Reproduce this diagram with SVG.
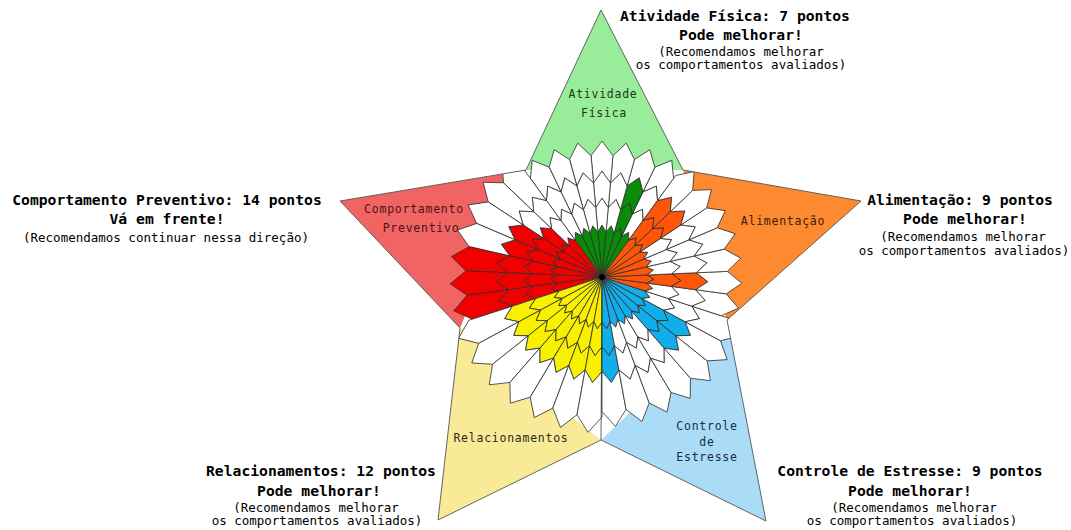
<svg xmlns="http://www.w3.org/2000/svg" width="1071" height="530" viewBox="0 0 1071 530">
<style>
.hd{font-family:"DejaVu Sans Mono","Liberation Mono",monospace;font-weight:bold;font-size:14.7px;fill:#000;text-anchor:middle}
.sm{font-family:"DejaVu Sans Mono","Liberation Mono",monospace;font-size:12.5px;fill:#000;text-anchor:middle}
.lb{font-family:"DejaVu Sans Mono","Liberation Mono",monospace;font-size:11.5px;letter-spacing:0.75px;text-anchor:middle}
.pet use{stroke:#2e2e2e;stroke-width:0.75;stroke-linejoin:miter}
.w{fill:#fff}
.cg{fill:#0a8c0a}.co{fill:#ff5508}.cr{fill:#f20000}.cy{fill:#f8f000}.cb{fill:#10aeea}
.arm{stroke:none}
</style>
<defs>
<clipPath id="starclip" clipPathUnits="userSpaceOnUse">
<polygon points="601,10 683,170 861,201 727,320 766,521 601,440 438,520 460,328 340,201 526,170"/>
</clipPath>
<polygon id="s1" points="0,0 45.12,4.06 52,0 45.12,-4.06"/>
<polygon id="s2" points="45.12,4.06 69.62,6.27 79,0 69.62,-6.27 45.12,-4.06 52,0"/>
<polygon id="s3" points="69.62,6.27 94.12,8.47 106,0 94.12,-8.47 69.62,-6.27 79,0"/>
<polygon id="s4g" points="94.12,8.47 121.31,10.92 136,0 121.31,-10.92 94.12,-8.47 106,0"/>
<polygon id="s4o" points="94.12,8.47 124.89,11.24 140,0 124.89,-11.24 94.12,-8.47 106,0"/>
<polygon id="s4r" points="94.12,8.47 135.75,12.22 152,0 135.75,-12.22 94.12,-8.47 106,0"/>
<polygon id="s4y" points="94.12,8.47 139.44,12.55 156,0 139.44,-12.55 94.12,-8.47 106,0"/>
<polygon id="s4b" points="94.12,8.47 133.96,12.06 150,0 133.96,-12.06 94.12,-8.47 106,0"/>
</defs>

<g id="arms">
<polygon id="inner" points="526,170 683,170 727,320 601,440 460,328" fill="#fff"/>
<polygon id="arm-atividade" class="arm" points="601,10 683,170 526,170" fill="#99ec99"/>
<polygon id="arm-alimentacao" class="arm" points="861,201 727,320 683,170" fill="#fd8a30"/>
<polygon id="arm-estresse" class="arm" points="766,521 601,440 727,320" fill="#aadcf8"/>
<polygon id="arm-relacionamentos" class="arm" points="438,520 460,328 601,440" fill="#f9ea98"/>
<polygon id="arm-preventivo" class="arm" points="340,201 526,170 460,328" fill="#f06464"/>
</g>

<g id="petals" class="pet" clip-path="url(#starclip)">
<g transform="translate(602,277)">
<g id="petals-atividade">
<g transform="rotate(-59.14)"><use href="#s1" class="cg"/><use href="#s2" class="w"/><use href="#s3" class="w"/><use href="#s4g" class="w"/></g>
<g transform="rotate(-69.43)"><use href="#s1" class="cg"/><use href="#s2" class="cg"/><use href="#s3" class="cg"/><use href="#s4g" class="w"/></g>
<g transform="rotate(-79.71)"><use href="#s1" class="cg"/><use href="#s2" class="w"/><use href="#s3" class="w"/><use href="#s4g" class="w"/></g>
<g transform="rotate(-90)"><use href="#s1" class="cg"/><use href="#s2" class="w"/><use href="#s3" class="w"/><use href="#s4g" class="w"/></g>
<g transform="rotate(-100.29)"><use href="#s1" class="cg"/><use href="#s2" class="w"/><use href="#s3" class="w"/><use href="#s4g" class="w"/></g>
<g transform="rotate(-110.57)"><use href="#s1" class="cg"/><use href="#s2" class="w"/><use href="#s3" class="w"/><use href="#s4g" class="w"/></g>
<g transform="rotate(-120.86)"><use href="#s1" class="cg"/><use href="#s2" class="w"/><use href="#s3" class="w"/><use href="#s4g" class="w"/></g>
</g>
<g id="petals-preventivo">
<g transform="rotate(-131.14)"><use href="#s1" class="cr"/><use href="#s2" class="w"/><use href="#s3" class="w"/><use href="#s4r" class="w"/></g>
<g transform="rotate(-141.43)"><use href="#s1" class="cr"/><use href="#s2" class="cr"/><use href="#s3" class="w"/><use href="#s4r" class="w"/></g>
<g transform="rotate(-151.71)"><use href="#s1" class="cr"/><use href="#s2" class="cr"/><use href="#s3" class="cr"/><use href="#s4r" class="w"/></g>
<g transform="rotate(-162)"><use href="#s1" class="cr"/><use href="#s2" class="cr"/><use href="#s3" class="cr"/><use href="#s4r" class="w"/></g>
<g transform="rotate(-172.29)"><use href="#s1" class="cr"/><use href="#s2" class="cr"/><use href="#s3" class="cr"/><use href="#s4r" class="cr"/></g>
<g transform="rotate(-182.57)"><use href="#s1" class="cr"/><use href="#s2" class="cr"/><use href="#s3" class="cr"/><use href="#s4r" class="cr"/></g>
<g transform="rotate(-192.86)"><use href="#s1" class="cr"/><use href="#s2" class="cr"/><use href="#s3" class="cr"/><use href="#s4r" class="cr"/></g>
</g>
<g id="petals-relacionamentos">
<g transform="rotate(-203.14)"><use href="#s1" class="cy"/><use href="#s2" class="cy"/><use href="#s3" class="cy"/><use href="#s4y" class="w"/></g>
<g transform="rotate(-213.43)"><use href="#s1" class="cy"/><use href="#s2" class="cy"/><use href="#s3" class="cy"/><use href="#s4y" class="w"/></g>
<g transform="rotate(-223.71)"><use href="#s1" class="cy"/><use href="#s2" class="cy"/><use href="#s3" class="cy"/><use href="#s4y" class="w"/></g>
<g transform="rotate(-234)"><use href="#s1" class="cy"/><use href="#s2" class="cy"/><use href="#s3" class="cy"/><use href="#s4y" class="w"/></g>
<g transform="rotate(-244.29)"><use href="#s1" class="cy"/><use href="#s2" class="cy"/><use href="#s3" class="cy"/><use href="#s4y" class="w"/></g>
<g transform="rotate(-254.57)"><use href="#s1" class="cy"/><use href="#s2" class="cy"/><use href="#s3" class="cy"/><use href="#s4y" class="w"/></g>
<g transform="rotate(-264.86)"><use href="#s1" class="cy"/><use href="#s2" class="cy"/><use href="#s3" class="cy"/><use href="#s4y" class="w"/></g>
</g>
<g id="petals-estresse">
<g transform="rotate(-275.14)"><use href="#s1" class="cb"/><use href="#s2" class="cb"/><use href="#s3" class="cb"/><use href="#s4b" class="w"/></g>
<g transform="rotate(-285.43)"><use href="#s1" class="cb"/><use href="#s2" class="w"/><use href="#s3" class="w"/><use href="#s4b" class="w"/></g>
<g transform="rotate(-295.71)"><use href="#s1" class="cb"/><use href="#s2" class="w"/><use href="#s3" class="w"/><use href="#s4b" class="w"/></g>
<g transform="rotate(-306)"><use href="#s1" class="cb"/><use href="#s2" class="w"/><use href="#s3" class="w"/><use href="#s4b" class="w"/></g>
<g transform="rotate(-316.29)"><use href="#s1" class="cb"/><use href="#s2" class="cb"/><use href="#s3" class="cb"/><use href="#s4b" class="w"/></g>
<g transform="rotate(-326.57)"><use href="#s1" class="cb"/><use href="#s2" class="cb"/><use href="#s3" class="cb"/><use href="#s4b" class="w"/></g>
<g transform="rotate(-336.86)"><use href="#s1" class="cb"/><use href="#s2" class="w"/><use href="#s3" class="w"/><use href="#s4b" class="w"/></g>
</g>
<g id="petals-alimentacao">
<g transform="rotate(-347.14)"><use href="#s1" class="co"/><use href="#s2" class="w"/><use href="#s3" class="w"/><use href="#s4o" class="w"/></g>
<g transform="rotate(-357.43)"><use href="#s1" class="co"/><use href="#s2" class="co"/><use href="#s3" class="co"/><use href="#s4o" class="w"/></g>
<g transform="rotate(-7.71)"><use href="#s1" class="co"/><use href="#s2" class="w"/><use href="#s3" class="w"/><use href="#s4o" class="w"/></g>
<g transform="rotate(-18)"><use href="#s1" class="co"/><use href="#s2" class="w"/><use href="#s3" class="w"/><use href="#s4o" class="w"/></g>
<g transform="rotate(-28.29)"><use href="#s1" class="co"/><use href="#s2" class="w"/><use href="#s3" class="w"/><use href="#s4o" class="w"/></g>
<g transform="rotate(-38.57)"><use href="#s1" class="co"/><use href="#s2" class="co"/><use href="#s3" class="co"/><use href="#s4o" class="w"/></g>
<g transform="rotate(-48.86)"><use href="#s1" class="co"/><use href="#s2" class="co"/><use href="#s3" class="co"/><use href="#s4o" class="w"/></g>
</g>
<line x1="0" y1="0" x2="-1" y2="163" stroke="#2e2e2e" stroke-width="0.75"/>
<circle cx="0" cy="0" r="3" fill="#000"/>
</g>
</g>

<polygon id="star-outline" points="601,10 683,170 861,201 727,320 766,521 601,440 438,520 460,328 340,201 526,170" fill="none" stroke="#555" stroke-width="0.9"/>

<g id="node-atividade">
<text class="lb" x="603" y="98" fill="#1c3a1c">Atividade</text>
<text class="lb" x="604" y="117" fill="#1c3a1c">Física</text>
<text class="hd" x="735" y="21">Atividade Física: 7 pontos</text>
<text class="hd" x="741" y="40">Pode melhorar!</text>
<text class="sm" x="741" y="56">(Recomendamos melhorar</text>
<text class="sm" x="741" y="69">os comportamentos avaliados)</text>
</g>
<g id="node-preventivo">
<text class="lb" x="414" y="213" fill="#4a1414">Comportamento</text>
<text class="lb" x="421" y="232" fill="#4a1414">Preventivo</text>
<text class="hd" x="167" y="205">Comportamento Preventivo: 14 pontos</text>
<text class="hd" x="167" y="224">Vá em frente!</text>
<text class="sm" x="166" y="242">(Recomendamos continuar nessa direção)</text>
</g>
<g id="node-alimentacao">
<text class="lb" x="783" y="225" fill="#3a2208">Alimentação</text>
<text class="hd" x="960" y="205">Alimentação: 9 pontos</text>
<text class="hd" x="965" y="224">Pode melhorar!</text>
<text class="sm" x="963" y="241">(Recomendamos melhorar</text>
<text class="sm" x="964" y="255">os comportamentos avaliados)</text>
</g>
<g id="node-relacionamentos">
<text class="lb" x="511" y="442" fill="#2a2a1a">Relacionamentos</text>
<text class="hd" x="321" y="476">Relacionamentos: 12 pontos</text>
<text class="hd" x="319" y="496">Pode melhorar!</text>
<text class="sm" x="316" y="512">(Recomendamos melhorar</text>
<text class="sm" x="317" y="525">os comportamentos avaliados)</text>
</g>
<g id="node-estresse">
<text class="lb" x="707" y="430" fill="#1c2c44">Controle</text>
<text class="lb" x="707" y="446" fill="#1c2c44">de</text>
<text class="lb" x="707" y="461" fill="#1c2c44">Estresse</text>
<text class="hd" x="910" y="476">Controle de Estresse: 9 pontos</text>
<text class="hd" x="910" y="496">Pode melhorar!</text>
<text class="sm" x="914" y="512">(Recomendamos melhorar</text>
<text class="sm" x="912" y="525">os comportamentos avaliados)</text>
</g>
</svg>
